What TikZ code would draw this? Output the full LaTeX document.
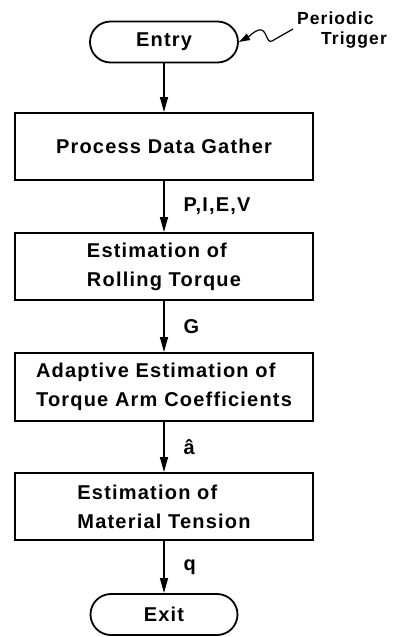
\documentclass[tikz,border=0pt]{standalone}
\usepackage{fontspec}
\newfontfamily\chartfont{Liberation Sans}[LetterSpace=6]
\usetikzlibrary{arrows.meta}

\tikzset{
  chart/.style={font=\chartfont\bfseries\fontsize{20}{29}\selectfont},
  stepbox/.style={chart, draw, line width=1.8pt, minimum width=298pt,
    minimum height=67pt, align=left, inner sep=0pt},
  terminal/.style={chart, draw, line width=1.8pt, minimum width=148pt,
    minimum height=41pt, rounded corners=20.5pt, inner sep=0pt},
  flow/.style={line width=1.3pt, -{Triangle[length=15pt,width=8pt]}},
  flowlabel/.style={chart, anchor=west, xshift=16pt, inner sep=3pt},
  note/.style={font=\chartfont\bfseries\fontsize{17.5}{20}\selectfont,
    align=left, inner sep=0pt}
}

\begin{document}
\begin{tikzpicture}[x=1pt,y=-1pt]
  \useasboundingbox (0,0) rectangle (396,637);

  % terminals and processing steps
  \node[terminal] (entry) at (164,42) {Entry};
  \node[stepbox] (gather) at (164,146.5) {Process Data Gather};
  \node[stepbox] (torque) at (164,266.5) {Estimation of\\Rolling Torque};
  \node[stepbox, minimum height=68pt] (arm) at (164,387)
    {Adaptive Estimation of\\Torque Arm Coefficients};
  \node[stepbox] (tension) at (164,506.5) {Estimation of\\Material Tension};
  \node[terminal, minimum width=147pt] (exit) at (164,614.5) {Exit};

  % data flow between steps
  \draw[flow] (entry) -- (gather);
  \draw[flow] (gather) -- node[flowlabel] (piev) {P,I,E,V} (torque);
  \draw[flow] (torque) -- node[flowlabel] (g) {G} (arm);
  \draw[flow] (arm) -- node[flowlabel] (ahat) {â} (tension);
  \draw[flow] (tension) -- node[flowlabel] (q) {q} (exit);

  % periodic trigger into the entry point
  \node[note, anchor=north west] (trigger) at (297,12)
    {Periodic\\\hspace*{24pt}Trigger};
  \coordinate (trigfoot) at (293,29);
  \draw[line width=1.2pt, -{Triangle[length=11pt,width=7pt]}]
    (trigfoot) -- (272,41)
    .. controls (266,44) and (267,28) .. (259,30)
    .. controls (254,31) and (250,36) .. (entry.east);
\end{tikzpicture}
\end{document}
